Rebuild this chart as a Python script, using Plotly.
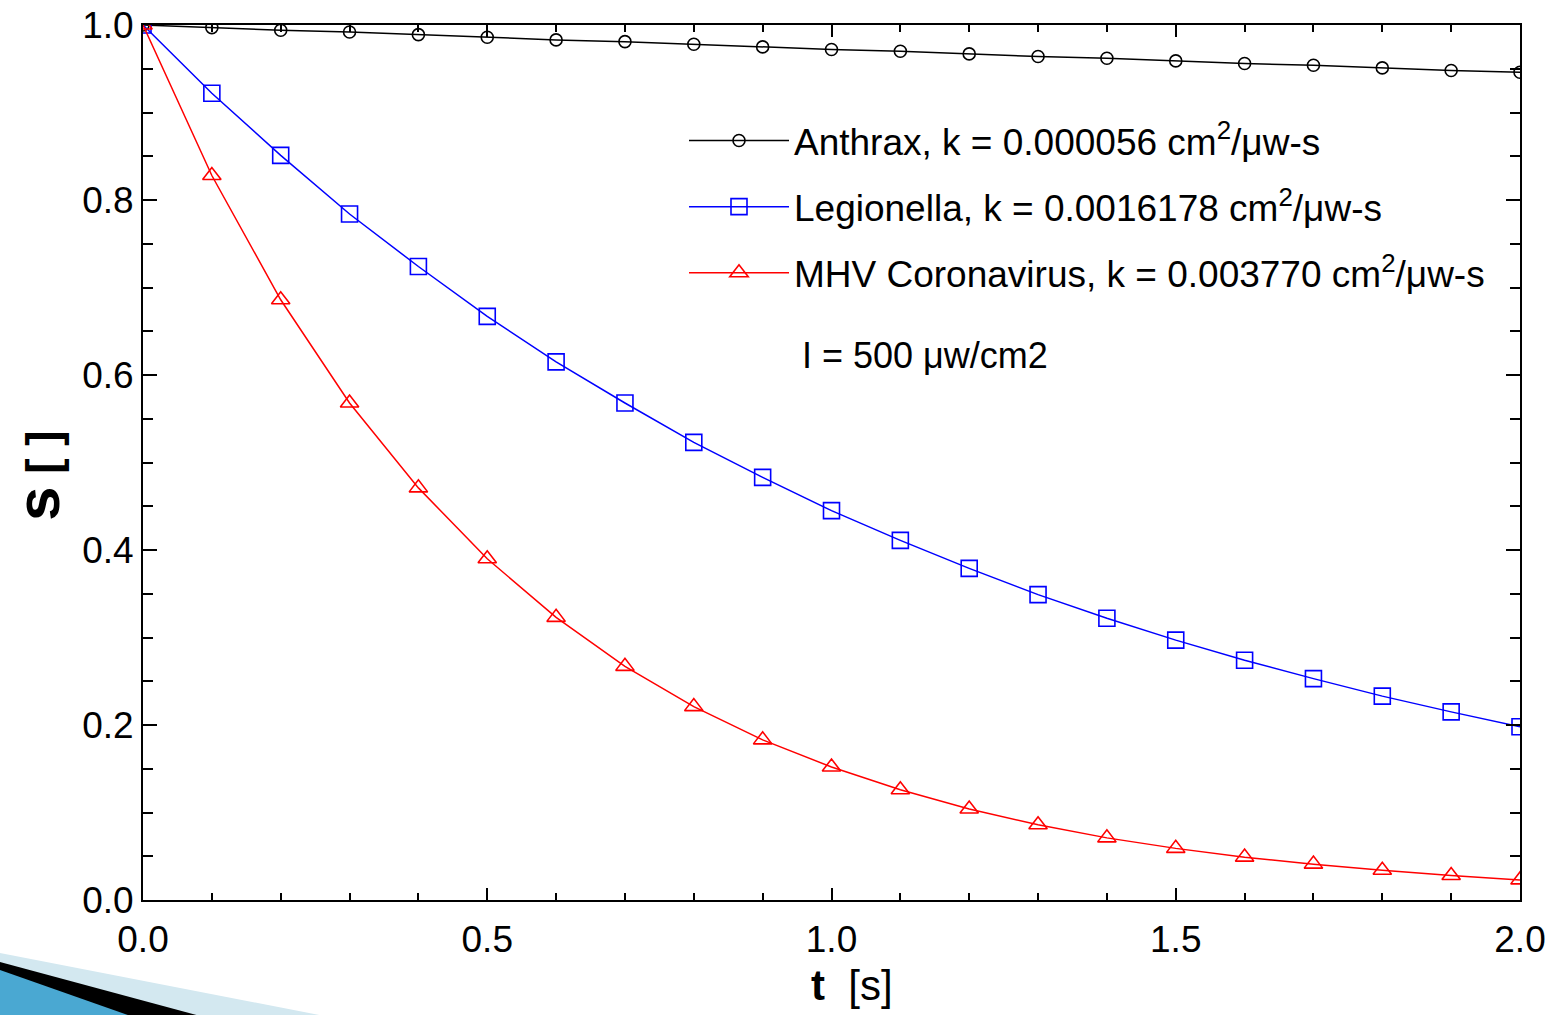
import plotly.graph_objects as go

# ---- data ----
t = [0.0, 0.1, 0.2, 0.3, 0.4, 0.5, 0.6, 0.7, 0.8, 0.9, 1.0,
     1.1, 1.2, 1.3, 1.4, 1.5, 1.6, 1.7, 1.8, 1.9, 2.0]
anthrax = [1.000, 0.997, 0.994, 0.992, 0.989, 0.986, 0.983, 0.981, 0.978, 0.975, 0.972,
           0.970, 0.967, 0.964, 0.962, 0.959, 0.956, 0.954, 0.951, 0.948, 0.946]
legionella = [1.000, 0.922, 0.851, 0.784, 0.724, 0.667, 0.615, 0.568, 0.523, 0.483, 0.445,
              0.411, 0.379, 0.349, 0.322, 0.297, 0.274, 0.253, 0.233, 0.215, 0.198]
mhv = [1.000, 0.828, 0.686, 0.568, 0.471, 0.390, 0.323, 0.267, 0.221, 0.183, 0.152,
       0.126, 0.104, 0.086, 0.071, 0.059, 0.049, 0.041, 0.034, 0.028, 0.023]

names = ["Anthrax, k = 0.000056 cm<sup>2</sup>/\u03bcw-s",
         "Legionella, k = 0.0016178 cm<sup>2</sup>/\u03bcw-s",
         "MHV Coronavirus, k = 0.003770 cm<sup>2</sup>/\u03bcw-s"]
colors = ["black", "#0000ff", "#ff0000"]
symbols = ["circle-open", "square-open", "triangle-up-open"]
sizes = [12, 16, 16]
series = [anthrax, legionella, mhv]

FONT = "Liberation Sans, Arial, sans-serif"

fig = go.Figure()
for i, (ys, nm, c, sym, sz) in enumerate(zip(series, names, colors, symbols, sizes)):
    fig.add_trace(go.Scatter(
        x=t, y=ys, name=nm, mode="lines+markers",
        line=dict(color=c, width=1.5),
        marker=dict(symbol=sym, size=sz, color=c, line=dict(width=1.6, color=c)),
        legendgroup=f"g{i}",
    ))

W, H = 1560, 1015
L, R, T, B = 143, 40, 25, 115
pw, ph = W - L - R, H - T - B


def px2paper(px, py):
    return (px - L) / pw, (H - B - py) / ph


def poly(pts):
    s = ""
    for j, (a, b) in enumerate(pts):
        xp, yp = px2paper(a, b)
        s += ("M" if j == 0 else "L") + f"{xp:.5f},{yp:.5f} "
    return s + "Z"


shapes = [
    dict(type="path", xref="paper", yref="paper", path=poly([(0, 953), (345, 1020), (0, 1020)]),
         fillcolor="#d3e8f0", line=dict(width=0), layer="below"),
    dict(type="path", xref="paper", yref="paper", path=poly([(0, 962), (215, 1020), (0, 1020)]),
         fillcolor="black", line=dict(width=0), layer="below"),
    dict(type="path", xref="paper", yref="paper", path=poly([(0, 970), (142, 1020), (0, 1020)]),
         fillcolor="#4aa8d2", line=dict(width=0), layer="below"),
]

axis_common = dict(
    showline=True, linecolor="black", linewidth=2, mirror="allticks",
    ticks="inside", tickcolor="black", tickwidth=1.5,
    showgrid=False, zeroline=False, automargin=False,
    ticklabeloverflow="allow",
    tickfont=dict(family=FONT, size=37, color="black"),
)

xt_x, xt_y = px2paper(852, 985)
yt_x, yt_y = px2paper(38, 476)

fig.update_layout(
    width=W, height=H,
    margin=dict(l=L, r=R, t=T, b=B),
    paper_bgcolor="white", plot_bgcolor="white",
    showlegend=True,
    legend=dict(x=(684 - L) / pw, y=(900 - 110) / ph, xanchor="left", yanchor="top",
                bgcolor="rgba(0,0,0,0)", borderwidth=0, itemwidth=100,
                font=dict(family=FONT, size=37, color="black"),
                tracegroupgap=15, traceorder="grouped"),
    xaxis=dict(range=[0, 2.0], dtick=0.5, tick0=0, tickformat=".1f", ticklen=12,
               minor=dict(dtick=0.1, ticks="inside", ticklen=7, tickcolor="black", tickwidth=1.5),
               ticklabelstandoff=6,
               **axis_common),
    yaxis=dict(range=[0, 1.0], dtick=0.2, tick0=0, tickformat=".1f", ticklen=14,
               minor=dict(dtick=0.05, ticks="inside", ticklen=10, tickcolor="black", tickwidth=1.5),
               ticklabelstandoff=0,
               **axis_common),
    shapes=shapes,
    annotations=[
        dict(xref="paper", yref="paper", x=(800 - L) / pw, y=(900 - 355) / ph,
             xanchor="left", yanchor="middle", showarrow=False,
             text="I = 500 \u03bcw/cm2",
             font=dict(family=FONT, size=36, color="black")),
        # x-axis title
        dict(xref="paper", yref="paper", x=xt_x, y=xt_y, xanchor="center", yanchor="middle",
             showarrow=False, text="<b>t</b>\u00a0\u00a0[s]",
             font=dict(family=FONT, size=42, color="black")),
        # y-axis title
        dict(xref="paper", yref="paper", x=yt_x, y=yt_y, xanchor="center", yanchor="middle",
             showarrow=False, textangle=-90,
             text="<b><span style='font-size:62px'>s</span> [ ]</b>",
             font=dict(family=FONT, size=46, color="black")),
    ],
)

fig.write_html("out.html")
